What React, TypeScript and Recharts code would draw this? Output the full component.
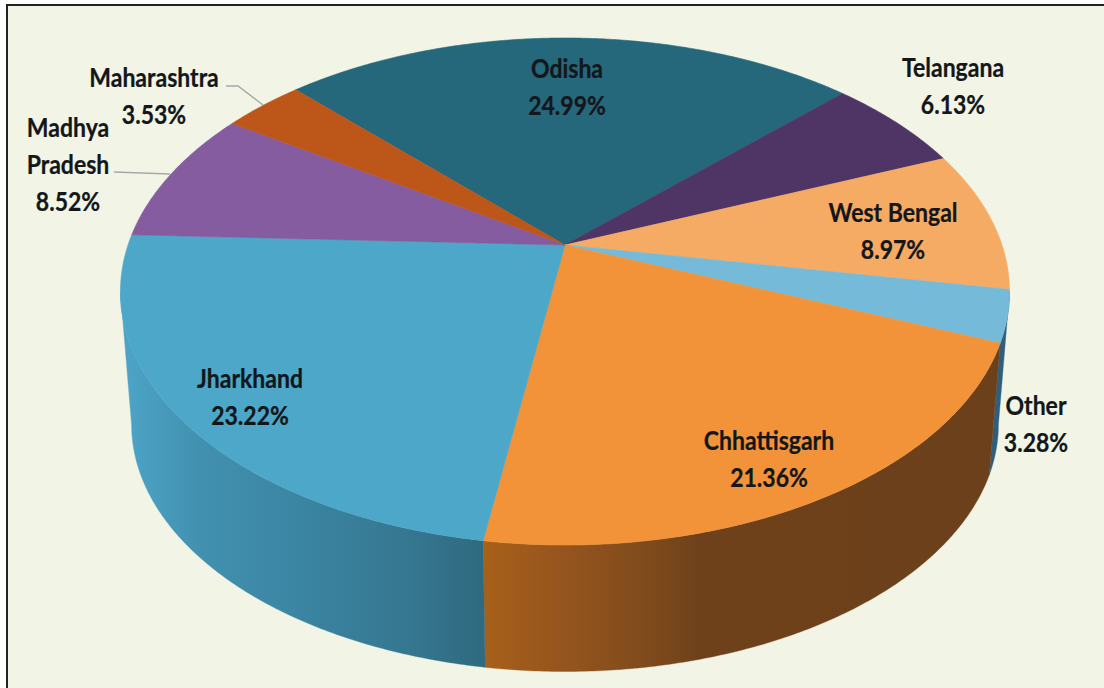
import { PieChart, Pie, Cell } from 'recharts'

// share of production by state, read clockwise from the top slice
const STATES = ['Odisha', 'Telangana', 'West Bengal', 'Other', 'Chhattisgarh', 'Jharkhand', 'Madhya Pradesh', 'Maharashtra']
const SHARES = [24.99, 6.13, 8.97, 3.28, 21.36, 23.22, 8.52, 3.53]
const TOP_COLORS = ['#25687c', '#4f3565', '#f6ab65', '#75bbd9', '#f2933a', '#4da7c8', '#855c9f', '#bd5619']
const WALL_FILLS = ['none', 'none', 'none', '#2f5f7c', 'url(#wallOrange)', 'url(#wallBlue)', 'none', 'none']

const data = STATES.map((name, i) => ({ name, value: SHARES[i], i }))

// perspective of the tilted disc
const TILT = 0.1834
const SQUASH = 0.5606
const APEX_X = 565
const APEX_Y = 245
const RADIUS = 437
const WALL_SCALE = 0.975
const WALL_DROP = 134
const SIDE_ANGLE = 10.6

const LABEL_LINES: Record<string, string[]> = {
  'Madhya Pradesh': ['Madhya', 'Pradesh'],
}

// label anchor: centre x, first baseline
const LABEL_POS: Record<string, [number, number]> = {
  Odisha: [567, 78],
  Telangana: [953, 77],
  'West Bengal': [893, 222],
  Other: [1036, 415],
  Chhattisgarh: [769, 450],
  Jharkhand: [250, 388],
  'Madhya Pradesh': [68, 137],
  Maharashtra: [154, 87],
}

function project(angle: number, cx: number, cy: number, radius: number): [number, number] {
  const rad = (angle * Math.PI) / 180
  const u = Math.cos(rad)
  const v = -Math.sin(rad)
  const w = 1 - TILT * v
  return [cx + (radius * u) / w, cy + (radius * SQUASH * v) / w]
}

function rim(start: number, end: number, cx: number, cy: number, radius: number) {
  const steps = Math.max(2, Math.ceil(Math.abs(end - start) * 2))
  const pts: [number, number][] = []
  for (let s = 0; s <= steps; s++) {
    pts.push(project(start + ((end - start) * s) / steps, cx, cy, radius))
  }
  return pts
}

const toPath = (pts: [number, number][]) => pts.map(p => `${p[0].toFixed(2)} ${p[1].toFixed(2)}`).join(' L ')

function TopSlice(props: any) {
  const { cx, cy, outerRadius, startAngle, endAngle, fill } = props
  const d = `M ${cx} ${cy} L ${toPath(rim(startAngle, endAngle, cx, cy, outerRadius))} Z`
  return <path d={d} fill={fill} stroke={fill} strokeWidth={0.6} />
}

function WallSlice(props: any) {
  const { cx, cy, outerRadius, startAngle, endAngle, fill } = props
  const a = Math.min(startAngle, -SIDE_ANGLE)
  const b = Math.max(endAngle, -180 + SIDE_ANGLE)
  if (a <= b || fill === 'none') return <g />
  const top = rim(a, b, cx, cy, outerRadius)
  const bottom = rim(b, a, cx, cy + WALL_DROP, outerRadius * WALL_SCALE)
  return <path d={`M ${toPath(top)} L ${toPath(bottom)} Z`} fill={fill} stroke={fill} strokeWidth={0.4} />
}

// Lato squeezed sideways is the nearest installed match for the narrow bold face
function renderLabel(props: any) {
  const name: string = props.name ?? props.payload?.name
  const value: number = props.value ?? props.payload?.value
  const [x, y] = LABEL_POS[name]
  const lines = [...(LABEL_LINES[name] ?? [name]), `${value.toFixed(2)}%`]
  return (
    <text
      transform={`translate(${x} ${y}) scale(0.885 1)`}
      textAnchor="middle" fontFamily="Lato" fontWeight={700} fontSize={26}
      fill="#14171a" stroke="#14171a" strokeWidth={0.25}
    >
      {lines.map((line, i) => (
        <tspan key={line} x={0} y={i * 37}>{line}</tspan>
      ))}
    </text>
  )
}

export default function App() {
  return (
    <div style={{ position: 'absolute', left: 0, top: 0, width: 1104, height: 688, overflow: 'hidden', background: '#fff' }}>
      <div style={{
        position: 'absolute', left: 6, top: 4, width: 1098, height: 684, boxSizing: 'border-box',
        background: '#f2f5e6', borderLeft: '2px solid #222', borderTop: '2px solid #222',
      }} />
      <div style={{ position: 'absolute', left: 0, top: 0 }}>
        <PieChart width={1104} height={688} margin={{ top: 0, right: 0, bottom: 0, left: 0 }}>
          <defs>
            <linearGradient id="wallBlue" gradientUnits="userSpaceOnUse" x1={130} y1={0} x2={483} y2={0}>
              <stop offset="0" stopColor="#4ca3c5" />
              <stop offset="0.2" stopColor="#4290b0" />
              <stop offset="0.48" stopColor="#3a85a2" />
              <stop offset="0.78" stopColor="#367791" />
              <stop offset="1" stopColor="#2f6a80" />
            </linearGradient>
            <linearGradient id="wallOrange" gradientUnits="userSpaceOnUse" x1={483} y1={0} x2={1000} y2={0}>
              <stop offset="0" stopColor="#a86019" />
              <stop offset="0.15" stopColor="#96551e" />
              <stop offset="0.32" stopColor="#7f4a1c" />
              <stop offset="0.42" stopColor="#6e411b" />
              <stop offset="1" stopColor="#6c401a" />
            </linearGradient>
          </defs>
          <Pie
            data={data} dataKey="value" nameKey="name"
            cx={APEX_X} cy={APEX_Y} innerRadius={0} outerRadius={RADIUS}
            startAngle={134.2} endAngle={-225.8} stroke="none"
            shape={WallSlice} isAnimationActive={false} label={false} labelLine={false}
          >
            {data.map(d => <Cell key={d.name} fill={WALL_FILLS[d.i]} />)}
          </Pie>
          <Pie
            data={data} dataKey="value" nameKey="name"
            cx={APEX_X} cy={APEX_Y} innerRadius={0} outerRadius={RADIUS}
            startAngle={134.2} endAngle={-225.8} stroke="none"
            shape={TopSlice} isAnimationActive={false} label={renderLabel} labelLine={false}
          >
            {data.map(d => <Cell key={d.name} fill={TOP_COLORS[d.i]} />)}
          </Pie>
          {/* leader lines for the two outside labels */}
          <polyline points="226,86 238,86 263,105" fill="none" stroke="#a8a8a8" strokeWidth={1.5} />
          <polyline points="114,172 170,174" fill="none" stroke="#a8a8a8" strokeWidth={1.5} />
        </PieChart>
      </div>
    </div>
  )
}
